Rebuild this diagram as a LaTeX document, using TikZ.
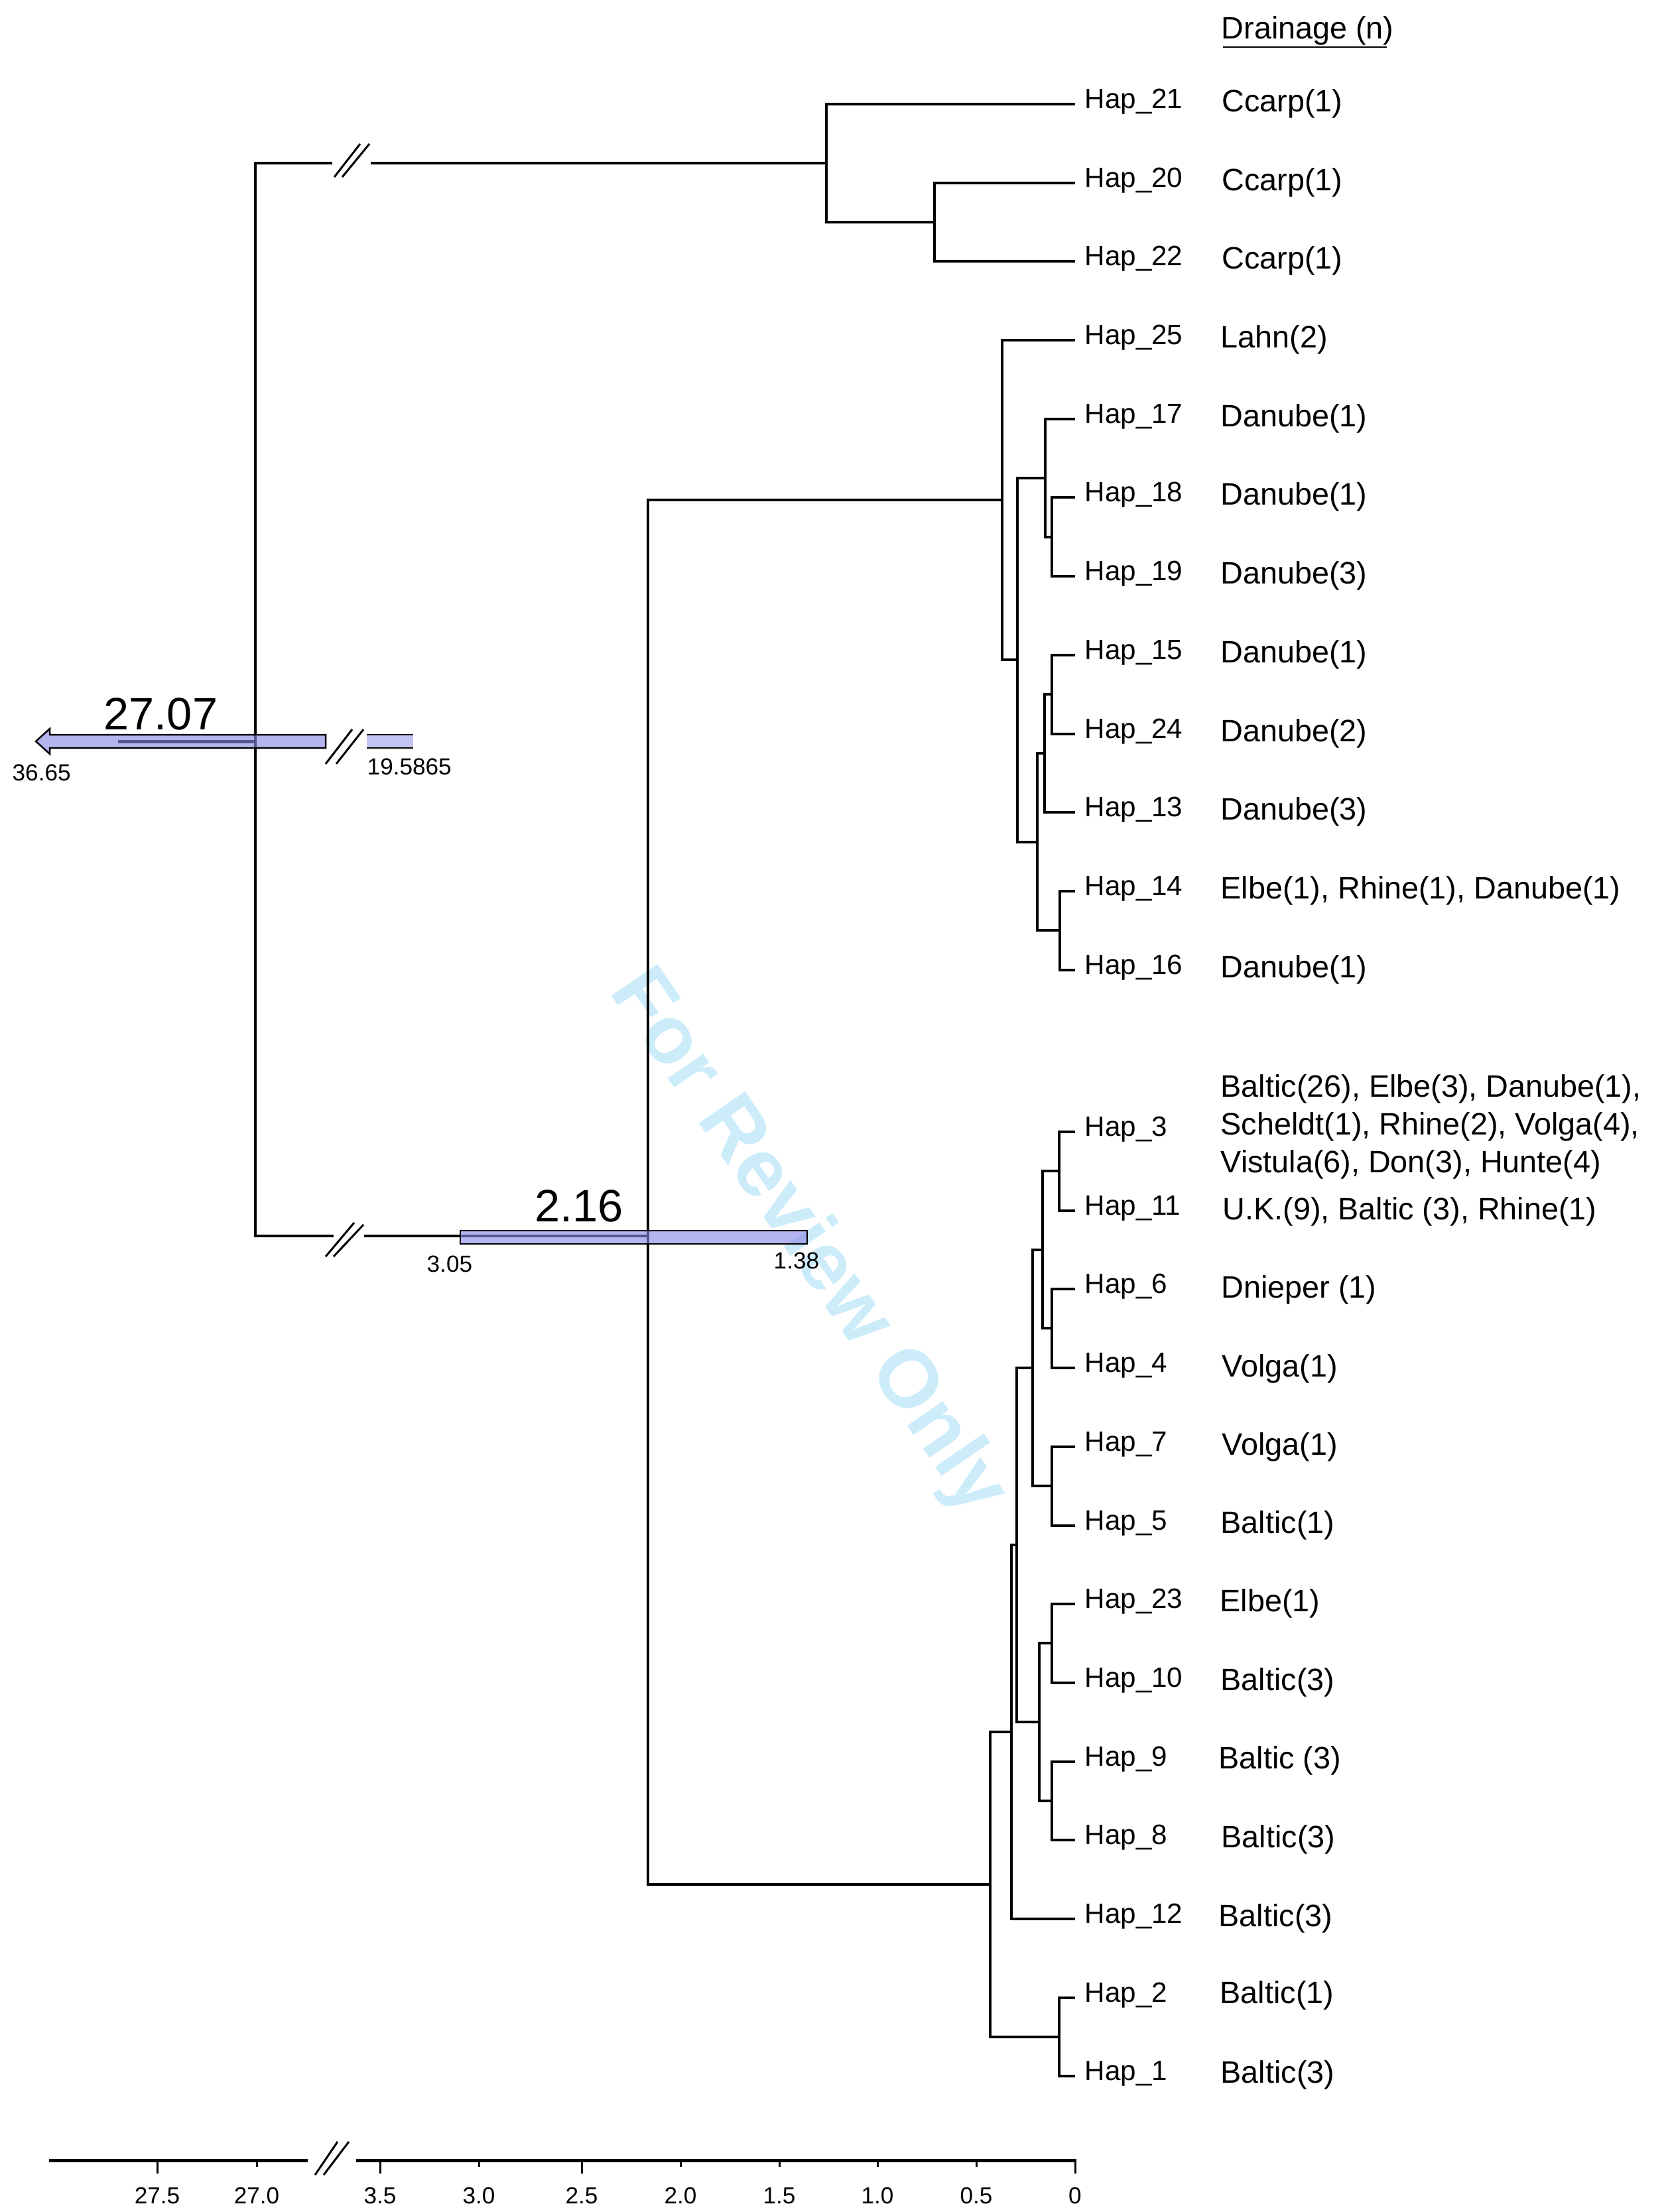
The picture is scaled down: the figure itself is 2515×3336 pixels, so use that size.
\documentclass[tikz,border=0pt]{standalone}
\usepackage{fontspec}
\setmainfont{Liberation Sans}
\usepackage{tikz}
\usetikzlibrary{arrows.meta}
\definecolor{barblue}{RGB}{136,136,230}
\definecolor{wmblue}{RGB}{204,236,250}

\begin{document}
\begin{tikzpicture}[x=0.1mm, y=-0.1mm,
            branch/.style = {line width=0.44mm},
            hap/.style = {anchor=base west, inner sep=0pt, font=\fontsize{12}{14}\selectfont},
            drain/.style = {anchor=base west, inner sep=0pt, font=\fontsize{13.3}{16.2}\selectfont},
            age/.style = {anchor=base west, inner sep=0pt, font=\fontsize{19.5}{22}\selectfont},
            lim/.style = {anchor=base west, inner sep=0pt, font=\fontsize{10}{12}\selectfont},
            hpd/.style = {draw=black, line width=0.25mm, fill=barblue, fill opacity=0.63},
            cut/.style = {line width=0.3mm},
            tickmark/.style = {line width=0.3mm},
            ticklab/.style = {anchor=base, inner sep=0pt, font=\fontsize{10}{12}\selectfont}]

            \useasboundingbox (0,0) rectangle (2515,3336);

            \node[rotate=-55.5, text=wmblue, font=\fontsize{35}{40}\selectfont\bfseries] (wm) at (1217,1875) {For Review Only};

            \coordinate (root) at (385,1055);
            \coordinate (cutA1) at (501,246);
            \coordinate (cutA2) at (559,246);
            \coordinate (cutC1) at (503,1864);
            \coordinate (cutC2) at (549,1864);
            \coordinate (A) at (1246,246);
            \coordinate (B) at (1409,335);
            \coordinate (C) at (977,1864);
            \coordinate (D1) at (1511,754);
            \coordinate (D2) at (1534,995);
            \coordinate (D3) at (1576,721);
            \coordinate (D4) at (1586,810);
            \coordinate (D5) at (1564,1270);
            \coordinate (D6) at (1575,1136);
            \coordinate (D7) at (1586,1047);
            \coordinate (D8) at (1598,1403);
            \coordinate (E1) at (1597,1766);
            \coordinate (E2) at (1572,1885);
            \coordinate (E3) at (1586,2003);
            \coordinate (E4) at (1557,2063);
            \coordinate (E5) at (1586,2241);
            \coordinate (E6) at (1533,2330);
            \coordinate (E7) at (1567,2597);
            \coordinate (E8) at (1586,2478);
            \coordinate (E9) at (1586,2716);
            \coordinate (E10) at (1525,2612);
            \coordinate (E11) at (1493,2842);
            \coordinate (E12) at (1597,3072);

            \coordinate (t21) at (1621,157);
            \coordinate (t20) at (1621,276);
            \coordinate (t22) at (1621,394);
            \coordinate (t25) at (1621,513);
            \coordinate (t17) at (1621,632);
            \coordinate (t18) at (1621,750);
            \coordinate (t19) at (1621,869);
            \coordinate (t15) at (1621,988);
            \coordinate (t24) at (1621,1107);
            \coordinate (t13) at (1621,1225);
            \coordinate (t14) at (1621,1344);
            \coordinate (t16) at (1621,1463);
            \coordinate (t3) at (1621,1707);
            \coordinate (t11) at (1621,1826);
            \coordinate (t6) at (1621,1944);
            \coordinate (t4) at (1621,2063);
            \coordinate (t7) at (1621,2182);
            \coordinate (t5) at (1621,2301);
            \coordinate (t23) at (1621,2419);
            \coordinate (t10) at (1621,2538);
            \coordinate (t9) at (1621,2657);
            \coordinate (t8) at (1621,2775);
            \coordinate (t12) at (1621,2894);
            \coordinate (t2) at (1621,3013);
            \coordinate (t1) at (1621,3131);

            \node[drain] (head) at (1841,58) {Drainage (n)};
            \draw[line width=0.2mm] (1844,71) -- (2091,71);

            \node[hap] (h21) at (1635,163) {Hap\_21};
            \node[hap] (h20) at (1635,282) {Hap\_20};
            \node[hap] (h22) at (1635,400) {Hap\_22};
            \node[hap] (h25) at (1635,519) {Hap\_25};
            \node[hap] (h17) at (1635,638) {Hap\_17};
            \node[hap] (h18) at (1635,756) {Hap\_18};
            \node[hap] (h19) at (1635,875) {Hap\_19};
            \node[hap] (h15) at (1635,994) {Hap\_15};
            \node[hap] (h24) at (1635,1113) {Hap\_24};
            \node[hap] (h13) at (1635,1231) {Hap\_13};
            \node[hap] (h14) at (1635,1350) {Hap\_14};
            \node[hap] (h16) at (1635,1469) {Hap\_16};
            \node[hap] (h3) at (1635,1713) {Hap\_3};
            \node[hap] (h11) at (1635,1832) {Hap\_11};
            \node[hap] (h6) at (1635,1950) {Hap\_6};
            \node[hap] (h4) at (1635,2069) {Hap\_4};
            \node[hap] (h7) at (1635,2188) {Hap\_7};
            \node[hap] (h5) at (1635,2307) {Hap\_5};
            \node[hap] (h23) at (1635,2425) {Hap\_23};
            \node[hap] (h10) at (1635,2544) {Hap\_10};
            \node[hap] (h9) at (1635,2663) {Hap\_9};
            \node[hap] (h8) at (1635,2781) {Hap\_8};
            \node[hap] (h12) at (1635,2900) {Hap\_12};
            \node[hap] (h2) at (1635,3019) {Hap\_2};
            \node[hap] (h1) at (1635,3137) {Hap\_1};

            \node[drain] (d21) at (1842,168) {Ccarp(1)};
            \node[drain] (d20) at (1842,287) {Ccarp(1)};
            \node[drain] (d22) at (1842,405) {Ccarp(1)};
            \node[drain] (d25) at (1840,524) {Lahn(2)};
            \node[drain] (d17) at (1840,643) {Danube(1)};
            \node[drain] (d18) at (1840,761) {Danube(1)};
            \node[drain] (d19) at (1840,880) {Danube(3)};
            \node[drain] (d15) at (1840,999) {Danube(1)};
            \node[drain] (d24) at (1840,1118) {Danube(2)};
            \node[drain] (d13) at (1840,1236) {Danube(3)};
            \node[drain] (d14) at (1840,1355) {Elbe(1), Rhine(1), Danube(1)};
            \node[drain] (d16) at (1840,1474) {Danube(1)};
            \node[drain, anchor=west, align=left] (d3) at (1840,1699) {Baltic(26), Elbe(3), Danube(1),\\Scheldt(1), Rhine(2), Volga(4),\\Vistula(6), Don(3), Hunte(4)};
            \node[drain] (d11) at (1843,1839) {U.K.(9), Baltic (3), Rhine(1)};
            \node[drain] (d6) at (1841,1957) {Dnieper (1)};
            \node[drain] (d4) at (1842,2076) {Volga(1)};
            \node[drain] (d7) at (1842,2194) {Volga(1)};
            \node[drain] (d5) at (1840,2312) {Baltic(1)};
            \node[drain] (d23) at (1839,2430) {Elbe(1)};
            \node[drain] (d10) at (1840,2549) {Baltic(3)};
            \node[drain] (d9) at (1837,2667) {Baltic (3)};
            \node[drain] (d8) at (1841,2786) {Baltic(3)};
            \node[drain] (d12) at (1837,2905) {Baltic(3)};
            \node[drain] (d2) at (1839,3021) {Baltic(1)};
            \node[drain] (d1) at (1840,3141) {Baltic(3)};

            \draw[branch] (root) |- (cutA1) (cutA2) -- (A);
            \draw[branch] (root) |- (cutC1) (cutC2) -- (C);
            \draw[branch] (A) |- (t21);
            \draw[branch] (A) |- (B);
            \draw[branch] (B) |- (t20);
            \draw[branch] (B) |- (t22);

            \draw[branch] (C) |- (D1);
            \draw[branch] (C) |- (E11);

            \draw[branch] (D1) |- (t25);
            \draw[branch] (D1) |- (D2);
            \draw[branch] (D2) |- (D3);
            \draw[branch] (D2) |- (D5);
            \draw[branch] (D3) |- (t17);
            \draw[branch] (D3) |- (D4);
            \draw[branch] (D4) |- (t18);
            \draw[branch] (D4) |- (t19);
            \draw[branch] (D5) |- (D6);
            \draw[branch] (D5) |- (D8);
            \draw[branch] (D6) |- (D7);
            \draw[branch] (D6) |- (t13);
            \draw[branch] (D7) |- (t15);
            \draw[branch] (D7) |- (t24);
            \draw[branch] (D8) |- (t14);
            \draw[branch] (D8) |- (t16);

            \draw[branch] (E11) |- (E10);
            \draw[branch] (E11) |- (E12);
            \draw[branch] (E10) |- (E6);
            \draw[branch] (E10) |- (t12);
            \draw[branch] (E6) |- (E4);
            \draw[branch] (E6) |- (E7);
            \draw[branch] (E4) |- (E2);
            \draw[branch] (E4) |- (E5);
            \draw[branch] (E2) |- (E1);
            \draw[branch] (E2) |- (E3);
            \draw[branch] (E1) |- (t3);
            \draw[branch] (E1) |- (t11);
            \draw[branch] (E3) |- (t6);
            \draw[branch] (E3) |- (t4);
            \draw[branch] (E5) |- (t7);
            \draw[branch] (E5) |- (t5);
            \draw[branch] (E7) |- (E8);
            \draw[branch] (E7) |- (E9);
            \draw[branch] (E8) |- (t23);
            \draw[branch] (E8) |- (t10);
            \draw[branch] (E9) |- (t9);
            \draw[branch] (E9) |- (t8);
            \draw[branch] (E12) |- (t2);
            \draw[branch] (E12) |- (t1);

            \draw[cut] (504,267) -- (543,217) (516,267) -- (557,217);
            \draw[cut] (491,1895) -- (534,1844) (503,1895) -- (548,1847);

            \draw[line width=0.5mm] (178,1118) -- (386,1118);
            \draw[hpd] (54,1118) -- (75,1099) -- (75,1108) -- (491,1108) -- (491,1128) -- (75,1128) -- (75,1137) -- cycle;
            \fill[barblue!50!white] (553,1108) rectangle (623,1128);
            \draw[line width=0.25mm] (553,1108) -- (623,1108) (553,1128) -- (623,1128);
            \draw[cut] (491,1152) -- (531,1100) (507,1152) -- (548,1100);
            \node[age] (age1) at (156,1100) {27.07};
            \node[lim] (lo1) at (18,1177) {36.65};
            \node[lim] (hi1) at (553,1168) {19.5865};

            \draw[hpd] (694,1856) rectangle (1217,1876);
            \node[age] (age2) at (806,1842) {2.16};
            \node[lim] (lo2) at (643,1918) {3.05};
            \node[lim] (hi2) at (1166,1913) {1.38};

            \draw[line width=0.5mm] (74,3258) -- (464,3258);
            \draw[line width=0.5mm] (537,3258) -- (1621,3258);
            \draw[cut] (475,3280) -- (509,3230) (488,3280) -- (526,3230);
            \draw[tickmark] (237,3258) -- (237,3278);
            \draw[tickmark] (387,3258) -- (387,3268);
            \draw[tickmark] (573,3258) -- (573,3278);
            \draw[tickmark] (722,3258) -- (722,3268);
            \draw[tickmark] (877,3258) -- (877,3278);
            \draw[tickmark] (1026,3258) -- (1026,3268);
            \draw[tickmark] (1175,3258) -- (1175,3268);
            \draw[tickmark] (1323,3258) -- (1323,3268);
            \draw[tickmark] (1472,3258) -- (1472,3268);
            \draw[tickmark] (1621,3256) -- (1621,3278);
            \node[ticklab] (l275) at (237,3323) {27.5};
            \node[ticklab] (l270) at (387,3323) {27.0};
            \node[ticklab] (l35) at (573,3323) {3.5};
            \node[ticklab] (l30) at (722,3323) {3.0};
            \node[ticklab] (l25) at (877,3323) {2.5};
            \node[ticklab] (l20) at (1026,3323) {2.0};
            \node[ticklab] (l15) at (1175,3323) {1.5};
            \node[ticklab] (l10) at (1323,3323) {1.0};
            \node[ticklab] (l05) at (1472,3323) {0.5};
            \node[ticklab] (l0) at (1621,3323) {0};
        \end{tikzpicture}
\end{document}
